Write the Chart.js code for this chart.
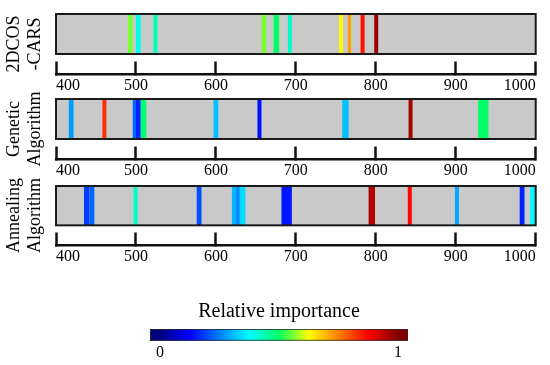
<!DOCTYPE html>
<html>
<head>
<meta charset="utf-8">
<script src="https://cdn.jsdelivr.net/npm/chart.js@4.4.1/dist/chart.umd.min.js"></script>
<style>
  body { margin: 0; background: #fff; }
  #wrap { position: relative; width: 550px; height: 365px; overflow: hidden; }
  #wrap canvas { position: absolute; left: 0; }
</style>
</head>
<body>
<div id="wrap">
  <canvas id="cars"></canvas>
  <canvas id="genetic"></canvas>
  <canvas id="annealing"></canvas>
  <canvas id="colorbar"></canvas>
</div>
<script>
// wavelength axis (nm)
var xTicks = [400, 500, 600, 700, 800, 900, 1000];

// selected bands per method: start / end wavelength (nm) and relative importance
var carsStart = [490, 500, 522, 657, 672, 690, 754, 765, 781, 798];
var carsEnd   = [496, 506, 527, 663, 679, 695, 759, 769, 786, 803];
var carsImp   = [0.56, 0.39, 0.43, 0.56, 0.50, 0.42, 0.63, 0.72, 0.86, 0.97];

var geneticStart = [416, 458, 496, 500, 506, 597, 652, 758, 841, 928];
var geneticEnd   = [422, 463, 500, 506, 513, 603, 657, 766, 846, 941];
var geneticImp   = [0.28, 0.83, 0.225, 0.16, 0.49, 0.315, 0.14, 0.315, 0.96, 0.50];

var annealingStart = [435, 442, 497, 576, 620, 625, 630, 682, 791, 840, 899, 980, 993];
var annealingEnd   = [442, 448, 502, 582, 625, 630, 637, 695, 799, 845, 904, 986, 999];
var annealingImp   = [0.185, 0.225, 0.42, 0.20, 0.305, 0.265, 0.34, 0.145, 0.95, 0.87, 0.29, 0.155, 0.37];

// colorbar
var cbTicks = [0, 1];

var serif = "'Liberation Serif', 'Times New Roman', serif";
var cmapStops = [
    [0, [0, 0, 128]], [0.125, [0, 0, 255]], [0.375, [0, 255, 255]],
    [0.5, [0, 255, 102]], [0.625, [255, 255, 0]], [0.875, [255, 0, 0]], [1, [128, 0, 0]]
];

var cmap = function (v) {
    for (var i = 1; i < cmapStops.length; i++) {
        var a = cmapStops[i - 1], b = cmapStops[i];
        if (v <= b[0]) {
            var t = (v - a[0]) / (b[0] - a[0]);
            var c = a[1].map(function (ch, k) { return Math.round(ch + (b[1][k] - ch) * t); });
            return 'rgb(' + c.join(',') + ')';
        }
    }
    return 'rgb(128,0,0)';
};

// gray strip behind the bands (y 1..3), outline on top
var stripRect = function (chart) {
    var x = chart.scales.x, y = chart.scales.y;
    var l = x.getPixelForValue(400), t = y.getPixelForValue(3);
    return [l, t, x.getPixelForValue(1000) - l, y.getPixelForValue(1) - t];
};

var stripPlugin = {
    id: 'strip',
    beforeDatasetsDraw: function (chart) {
        var r = stripRect(chart), ctx = chart.ctx;
        ctx.save();
        ctx.fillStyle = '#c9c9c9';
        ctx.fillRect(r[0], r[1], r[2], r[3]);
        ctx.restore();
    },
    afterDatasetsDraw: function (chart) {
        var r = stripRect(chart), ctx = chart.ctx;
        ctx.save();
        ctx.strokeStyle = '#1a1a1a';
        ctx.lineWidth = 2;
        ctx.strokeRect(r[0], r[1], r[2], r[3]);
        ctx.restore();
    }
};

var X_AXIS_H = 21, Y_AXIS_W = 56;

var createPanel = function (id, title, starts, ends, imp, top, areaH) {
    var canvas = document.getElementById(id);
    var padTop = 12, padBottom = 4;
    canvas.width = 550;
    canvas.height = padTop + areaH + X_AXIS_H + padBottom;
    canvas.style.top = (top - padTop) + 'px';

    return new Chart(canvas, {
        type: 'bar',
        data: {
            datasets: [{
                data: starts.map(function (s, i) { return { x: [s, ends[i]], y: 2 }; }),
                backgroundColor: imp.map(cmap),
                borderWidth: 0,
                inflateAmount: 0,
                barPercentage: 1,
                categoryPercentage: 1
            }]
        },
        options: {
            indexAxis: 'y',
            responsive: false,
            animation: false,
            layout: { padding: { left: 0, right: 13, top: padTop, bottom: padBottom } },
            plugins: { legend: { display: false }, tooltip: { enabled: false } },
            scales: {
                x: {
                    type: 'linear', min: 400, max: 1000,
                    afterBuildTicks: function (s) { s.ticks = xTicks.map(function (v) { return { value: v }; }); },
                    afterFit: function (s) { s.height = X_AXIS_H; },
                    ticks: {
                        align: 'inner', padding: 14.3, color: '#000',
                        font: { family: serif, size: 16 },
                        callback: function (v) { return String(v); }
                    },
                    // negative length: tick marks point up from the axis line
                    grid: { drawOnChartArea: false, drawTicks: true, tickLength: -12.5, tickWidth: 2.5, tickColor: '#111' },
                    border: { display: true, width: 2.5, color: '#111' }
                },
                y: {
                    type: 'linear', min: 0, max: 3, offset: false,
                    // strip spans 1..3, so the bar band is one tick interval
                    afterBuildTicks: function (s) { s.ticks = [{ value: 1 }, { value: 3 }]; },
                    afterFit: function (s) { s.width = Y_AXIS_W; },
                    ticks: { display: false },
                    grid: { display: false, drawTicks: false, offset: false },
                    border: { display: false },
                    title: {
                        display: true, text: title, color: '#000',
                        font: { family: serif, size: 18, lineHeight: 1.14 },
                        padding: { top: 4.5, bottom: 10.5 }
                    }
                }
            }
        },
        plugins: [stripPlugin]
    });
};

createPanel('cars', ['2DCOS', '-CARS'], carsStart, carsEnd, carsImp, 14, 60);
createPanel('genetic', ['Genetic', 'Algorithm'], geneticStart, geneticEnd, geneticImp, 99, 60);
createPanel('annealing', ['Annealing', 'Algorithm'], annealingStart, annealingEnd, annealingImp, 186, 59);

// colorbar: jet gradient filling the plot area
var colorbarPlugin = {
    id: 'cbFill',
    beforeDatasetsDraw: function (chart) {
        var a = chart.chartArea, x = chart.scales.x, ctx = chart.ctx;
        var x0 = x.getPixelForValue(0), x1 = x.getPixelForValue(1);
        var g = ctx.createLinearGradient(x0, 0, x1, 0);
        cmapStops.forEach(function (s) { g.addColorStop(s[0], 'rgb(' + s[1].join(',') + ')'); });
        ctx.save();
        ctx.fillStyle = g;
        ctx.fillRect(a.left, a.top, a.right - a.left, a.bottom - a.top);
        ctx.strokeStyle = 'rgba(40,40,40,0.8)';
        ctx.lineWidth = 1;
        ctx.strokeRect(a.left + 0.5, a.top + 0.5, a.right - a.left - 1, a.bottom - a.top - 1);
        ctx.restore();
    }
};

var cb = document.getElementById('colorbar');
cb.width = 550;
cb.height = 75;
cb.style.top = '290px';
new Chart(cb, {
    type: 'scatter',
    data: { datasets: [] },
    options: {
        responsive: false,
        animation: false,
        layout: { padding: { left: 150, right: 142, top: 0, bottom: 1 } },
        plugins: {
            legend: { display: false },
            tooltip: { enabled: false },
            title: {
                display: true, text: 'Relative importance', color: '#000',
                font: { family: serif, size: 20, weight: 'normal' },
                padding: { top: 10, bottom: 5 }
            }
        },
        scales: {
            x: {
                type: 'linear', min: -0.042, max: 1.042,
                afterBuildTicks: function (s) { s.ticks = cbTicks.map(function (v) { return { value: v }; }); },
                grid: { display: false, drawTicks: false },
                border: { display: false },
                ticks: { padding: 2, color: '#000', font: { family: serif, size: 16 } }
            },
            y: { display: false, min: 0, max: 1 }
        }
    },
    plugins: [colorbarPlugin]
});
</script>
</body>
</html>
